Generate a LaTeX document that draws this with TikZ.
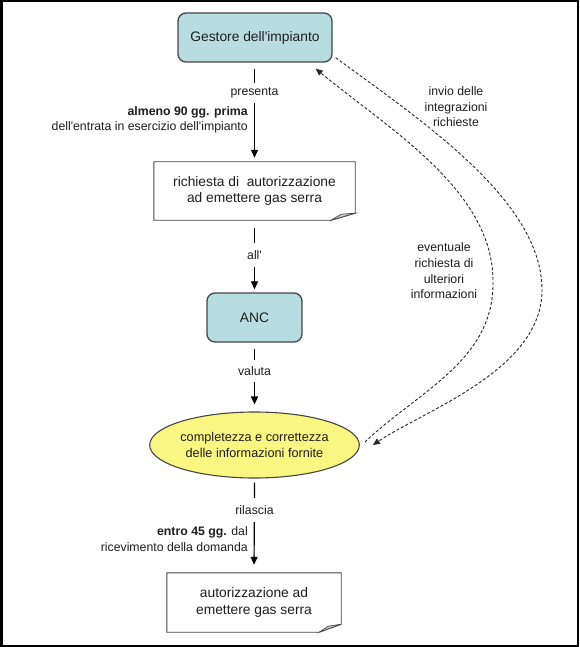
\documentclass[tikz,border=0pt]{standalone}
\usepackage{fontspec}
\setmainfont{Liberation Sans}[Ligatures=TeXOff]
\usetikzlibrary{arrows.meta,shapes.geometric}
\definecolor{tealfill}{RGB}{184,221,224}
\definecolor{yellfill}{RGB}{250,246,130}
\definecolor{edgegray}{RGB}{70,70,70}
\definecolor{txt}{RGB}{30,30,30}
\definecolor{foldgray}{RGB}{200,200,200}
\begin{document}
\begin{tikzpicture}[x=1pt,y=-1pt,
  bigtext/.style={font=\fontsize{13.8}{16.5}\selectfont, text=txt, align=center},
  smalltext/.style={font=\fontsize{12.3}{15.6}\selectfont, text=txt},
  actor/.style={bigtext, draw=edgegray, line width=1.3pt, fill=tealfill, rounded corners=8pt, inner sep=0pt},
  docbox/.style={bigtext, inner sep=0pt},
  docline/.style={draw=edgegray, line width=0.9pt, fill=white},
  evalnode/.style={ellipse, draw=edgegray, line width=1.1pt, fill=yellfill, inner sep=0pt,
     font=\fontsize{12.7}{15.8}\selectfont, text=txt, align=center},
  flow/.style={draw=black, line width=1.2pt},
  flowarrow/.style={flow, -{Triangle[length=8pt,width=7pt]}},
  lbl/.style={smalltext, fill=white, inner sep=4.5pt},
  side/.style={smalltext, align=right, anchor=east, inner sep=0pt},
  feedback/.style={draw=black!85, line width=0.9pt, dash pattern=on 3pt off 2pt, -{Triangle[length=7pt,width=6pt]}},
  note/.style={smalltext, align=center, inner sep=0pt}
]
\useasboundingbox (0,0) rectangle (579,647);
\fill[white] (0,0) rectangle (579,647);
\draw[black, line width=2.5pt] (1.25,1.25) rectangle (577.75,645.75);

% nodes
\node[actor, minimum width=154pt, minimum height=49pt] (g) at (255,37.5) {Gestore dell'impianto};

\node[docbox, minimum width=201pt, minimum height=58pt] (req) at (254.5,191) {};
\draw[docline] (req.north west) -- (req.north east) -- ([yshift=7pt]req.south east)
   -- ([xshift=-24pt]req.south east) -- (req.south west) -- cycle;
\filldraw[draw=edgegray, line width=0.7pt, fill=foldgray] ([xshift=-24pt]req.south east)
   -- ([xshift=-14pt,yshift=6pt]req.south east) -- ([yshift=7pt]req.south east) -- cycle;
\node[bigtext] at (req) {richiesta di~~autorizzazione\\ad emettere gas serra};

\node[actor, minimum width=95pt, minimum height=49pt] (anc) at (254.5,317.5) {ANC};

\node[evalnode, minimum width=195pt, minimum height=66pt] (e) at (254.5,445) {completezza e correttezza\\delle informazioni fornite};

\node[docbox, minimum width=174pt, minimum height=59pt] (aut) at (254,602.5) {};
\draw[docline] (aut.north west) -- (aut.north east) -- ([yshift=8pt]aut.south east)
   -- ([xshift=-22pt]aut.south east) -- (aut.south west) -- cycle;
\filldraw[draw=edgegray, line width=0.7pt, fill=foldgray] ([xshift=-22pt]aut.south east)
   -- ([xshift=-13pt,yshift=6pt]aut.south east) -- ([yshift=8pt]aut.south east) -- cycle;
\node[bigtext] at (aut) {autorizzazione ad\\emettere gas serra};

% main flow
\draw[flowarrow, shorten <=6pt, shorten >=4pt] (g.south -| req.north) -- (req.north);
\draw[flowarrow, shorten <=8pt, shorten >=3pt] (req.south) -- (anc.north);
\draw[flowarrow, shorten <=6pt, shorten >=7pt] (anc.south) -- (e.north);
\draw[flowarrow, shorten <=4pt, shorten >=8pt] (e.south) -- (aut.north);

\node[lbl] (l1) at (254.5,93) {presenta};
\node[side] (s1) at (248,120) {\textbf{almeno 90 gg. prima}\\dell'entrata in esercizio dell'impianto};
\node[lbl, inner ysep=7pt] (l2) at (254.5,255) {all'};
\node[lbl, inner ysep=6pt] (l3) at (254.5,371) {valuta};
\node[lbl, inner ysep=7pt] (l4) at (254.5,510) {rilascia};
\node[side] (s2) at (248,539) {\textbf{entro 45 gg.} dal\\ricevimento della domanda};

% feedback loops
\draw[feedback] ([xshift=3pt,yshift=5pt]g.south east)
   .. controls (420,120) and (542,200) .. (542,290)
   .. controls (542,370) and (425,410) .. ([xshift=13pt]e.east);
\draw[feedback] ([xshift=5pt,yshift=3pt]e.east)
   .. controls (420,390) and (495,360) .. (493,280)
   .. controls (492,190) and (390,130) .. ([xshift=-17pt,yshift=-6pt]g.south east);

\node[note] (n1) at (456,107) {invio delle\\integrazioni\\richieste};
\node[note] (n2) at (444,271) {eventuale\\richiesta di\\ulteriori\\informazioni};
\end{tikzpicture}
\end{document}
